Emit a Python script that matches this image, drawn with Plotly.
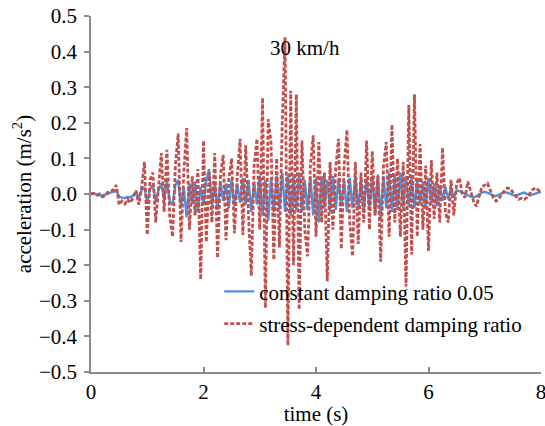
import plotly.graph_objects as go

time_s = [round(i * 0.05, 2) for i in range(161)]

stress_dependent = [
    0.000, 0.002, -0.003, 0.000, -0.008, -0.005, 0.005, 0.008, 0.012, 0.025,
    -0.030, -0.020, -0.028, -0.015, -0.025, -0.010, 0.010, -0.030, 0.020, 0.090,
    -0.115, 0.040, 0.060, -0.080, 0.030, 0.115, -0.050, 0.124, -0.060, -0.120,
    0.080, 0.170, -0.135, 0.060, 0.185, -0.100, 0.050, -0.060, 0.070, -0.240,
    0.150, -0.135, 0.060, -0.080, 0.115, -0.180, 0.050, 0.110, -0.130, 0.040,
    0.100, -0.110, 0.050, 0.155, -0.115, 0.137, -0.060, -0.230, 0.080, 0.155,
    -0.100, 0.270, -0.320, 0.210, 0.146, -0.185, 0.100, -0.150, 0.200, 0.440,
    -0.425, 0.290, -0.200, 0.280, -0.325, 0.150, -0.100, -0.175, 0.080, 0.165,
    -0.120, 0.146, -0.080, 0.060, -0.245, 0.090, -0.100, 0.070, 0.155, -0.155,
    0.080, 0.180, -0.080, -0.175, 0.090, -0.140, 0.060, -0.080, 0.150, -0.100,
    0.120, -0.060, 0.050, -0.190, 0.080, 0.146, -0.120, 0.195, -0.080, 0.100,
    -0.120, 0.090, -0.260, 0.250, -0.170, 0.280, -0.120, 0.140, -0.100, 0.080,
    -0.160, 0.095, -0.070, 0.060, -0.080, 0.130, -0.050, -0.080, 0.040, -0.060,
    0.030, 0.045, 0.000, -0.010, 0.035, 0.010, -0.020, -0.035, -0.010, 0.020,
    0.025, 0.030, 0.010, -0.010, -0.020, -0.015, 0.000, 0.010, 0.017, 0.015,
    0.005, -0.008, -0.015, -0.012, -0.015, -0.010, 0.000, 0.012, 0.017, 0.010,
    0.005,
]

constant_damping = [
    0.000, 0.001, -0.002, -0.003, -0.004, -0.002, 0.002, 0.004, 0.006, 0.010,
    -0.008, -0.010, -0.012, -0.008, -0.010, -0.004, 0.004, -0.010, 0.010, 0.020,
    -0.025, 0.015, 0.025, -0.020, 0.010, 0.030, -0.015, 0.035, -0.020, -0.030,
    0.025, 0.040, -0.035, 0.020, -0.065, 0.030, -0.030, 0.035, -0.050, 0.020,
    -0.030, 0.040, 0.070, -0.030, 0.030, -0.045, 0.035, -0.020, 0.030, -0.040,
    0.040, -0.035, 0.030, -0.025, 0.045, -0.030, 0.040, -0.050, 0.035, -0.030,
    0.050, -0.060, 0.040, -0.075, 0.045, -0.050, 0.050, -0.040, 0.060, -0.050,
    0.055, -0.060, 0.050, -0.045, 0.060, -0.050, 0.040, -0.045, 0.050, -0.060,
    0.045, -0.080, 0.050, -0.040, 0.040, -0.050, 0.050, -0.045, 0.045, -0.035,
    0.040, -0.050, 0.045, -0.040, 0.050, -0.045, 0.040, -0.050, 0.045, -0.040,
    0.050, -0.060, 0.055, -0.070, 0.050, -0.040, 0.060, -0.050, 0.055, -0.045,
    0.060, -0.040, 0.050, -0.035, 0.045, -0.040, 0.040, -0.030, 0.035, -0.040,
    0.045, -0.030, 0.030, -0.035, 0.025, -0.020, 0.020, -0.015, 0.015, -0.010,
    0.010, 0.008, 0.005, 0.000, -0.004, -0.008, -0.010, -0.006, 0.000, 0.004,
    0.006, 0.004, 0.000, -0.004, -0.006, -0.002, 0.002, 0.005, 0.004, 0.000,
    -0.003, -0.004, -0.002, 0.002, 0.004, 0.000, -0.004, -0.002, 0.002, 0.004,
    0.005,
]

x_ticks = [0, 2, 4, 6, 8]
y_ticks = [-0.5, -0.4, -0.3, -0.2, -0.1, 0.0, 0.1, 0.2, 0.3, 0.4, 0.5]

FONT = "Times New Roman, Liberation Serif, DejaVu Serif, serif"
FS = 21
BLUE = "#4F8FDB"
RED = "#C0504D"

fig = go.Figure()
fig.add_trace(go.Scatter(
    x=time_s, y=constant_damping, mode="lines",
    name="constant damping ratio 0.05", legendgroup="a",
    line=dict(color=BLUE, width=2.4),
))
fig.add_trace(go.Scatter(
    x=time_s, y=stress_dependent, mode="lines",
    name="stress-dependent damping ratio", legendgroup="b",
    line=dict(color=RED, width=2.8, dash="4px,2px"),
))

fig.add_annotation(
    x=3.8, y=0.41, text="30 km/h", showarrow=False,
    font=dict(family=FONT, size=FS, color="black"),
)

axis_common = dict(
    showgrid=False, zeroline=False, showline=True,
    linecolor="#8C8C8C", linewidth=1.5,
    tickcolor="#8C8C8C", ticklen=5, tickwidth=1.5,
    tickfont=dict(family=FONT, size=FS, color="black"),
    automargin=False, ticklabeloverflow="allow",
)

fig.update_layout(
    width=545, height=426,
    margin=dict(l=91, r=4, t=16, b=54),
    paper_bgcolor="white", plot_bgcolor="white",
    font=dict(family=FONT, size=FS, color="black"),
    showlegend=True,
    legend=dict(
        x=0.285, y=0.283, xanchor="left", yanchor="top",
        font=dict(family=FONT, size=FS, color="black"),
        bgcolor="rgba(0,0,0,0)", traceorder="grouped", tracegroupgap=2,
    ),
    xaxis=dict(
        range=[0, 8], tickvals=x_ticks, ticks="inside",
        title=dict(text="time (s)", font=dict(family=FONT, size=FS, color="black"), standoff=0),
        **axis_common,
    ),
    yaxis=dict(
        range=[-0.5, 0.5], tickvals=y_ticks, tickformat=".1f", ticks="outside",
        ticklabelstandoff=3,
        title=dict(text="acceleration (m/s<sup>2</sup>)", font=dict(family=FONT, size=FS, color="black"), standoff=2),
        **axis_common,
    ),
)

fig.write_html("out.html")
